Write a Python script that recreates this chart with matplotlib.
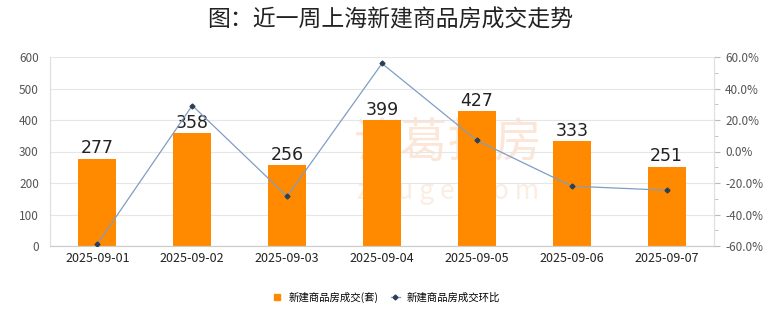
import matplotlib
matplotlib.use("Agg")
import matplotlib.pyplot as plt
from matplotlib.ticker import FuncFormatter, MultipleLocator

plt.rcParams["font.family"] = ["Noto Sans CJK SC", "DejaVu Sans"]

dates = ["2025-09-01", "2025-09-02", "2025-09-03", "2025-09-04",
         "2025-09-05", "2025-09-06", "2025-09-07"]
deals = [277, 358, 256, 399, 427, 333, 251]
mom_pct = [-58.7, 29.2, -28.5, 55.9, 7.0, -22.0, -24.6]

bar_color = "#FF8A00"
line_color = "#7F9EC2"

fig = plt.figure(figsize=(7.8, 3.28), dpi=100)
ax = fig.add_axes([50 / 780, 1 - 246 / 328, 664 / 780, 189 / 328])
ax2 = ax.twinx()

x = range(len(dates))

# faint site watermark behind the bars
ax.text(0.6, 0.54, "诸葛找房", transform=ax.transAxes, ha="center", va="center",
        fontsize=34, color="#FBE6D8", zorder=0)
ax.text(0.6, 0.29, "z h u g e . c o m", transform=ax.transAxes, ha="center",
        va="center", fontsize=19, color="#FCEDE3", zorder=0)

bars = ax.bar(x, deals, width=0.4, color=bar_color, zorder=2)
for b, v in zip(bars, deals):
    ax.text(b.get_x() + b.get_width() / 2, v + 5, str(v), ha="center",
            va="bottom", fontsize=12.5, color="#222222", family="DejaVu Sans")

ax.set_ylim(0, 600)
ax.set_xlim(-0.5, len(dates) - 0.5)
ax.yaxis.set_major_locator(MultipleLocator(100))
ax.grid(axis="y", color="#E6E6E6", linewidth=0.8, zorder=1)
ax.set_axisbelow(True)
ax.set_xticks(list(x))
ax.set_xticklabels(dates, fontsize=9, color="#222222")
ax.tick_params(axis="x", length=0, pad=4)
ax.tick_params(axis="y", length=0, labelsize=8.5, labelcolor="#555555", pad=8)

ax2.plot(list(x), mom_pct, color=line_color, linewidth=0.9, marker="D",
         markersize=2.5, markerfacecolor="#2B3F55", markeredgecolor="#2B3F55",
         zorder=3)
ax2.set_ylim(-60, 60)
ax2.yaxis.set_major_locator(MultipleLocator(20))
ax2.yaxis.set_minor_locator(MultipleLocator(10))
ax2.yaxis.set_major_formatter(FuncFormatter(lambda v, _: f"{v:.1f}%"))
ax2.tick_params(axis="y", which="major", length=4, color="#BBBBBB",
                labelsize=8.5, labelcolor="#555555", direction="out", pad=4)
ax2.tick_params(axis="y", which="minor", length=3, color="#BBBBBB", direction="out")

for a in (ax, ax2):
    a.spines["top"].set_visible(False)
    a.spines["left"].set_color("#E0E0E0")
    a.spines["right"].set_color("#E0E0E0")
    a.spines["bottom"].set_color("#CCCCCC")

fig.suptitle("图：近一周上海新建商品房成交走势", y=0.975, fontsize=16.5,
             color="#222222", fontweight="medium")

handles = [
    plt.Line2D([], [], linestyle="none", marker="s", markersize=5,
               color=bar_color),
    plt.Line2D([], [], color=line_color, linewidth=0.9, marker="D",
               markersize=2.5, markerfacecolor="#2B3F55",
               markeredgecolor="#2B3F55"),
]
fig.legend(handles, ["新建商品房成交(套)", "新建商品房成交环比"],
           loc="center", bbox_to_anchor=(0.495, 1 - 297 / 328), ncol=2,
           frameon=False, fontsize=7.5, handlelength=0.9, columnspacing=1.2,
           handletextpad=0.6)

fig.savefig("out.png", dpi=100)
